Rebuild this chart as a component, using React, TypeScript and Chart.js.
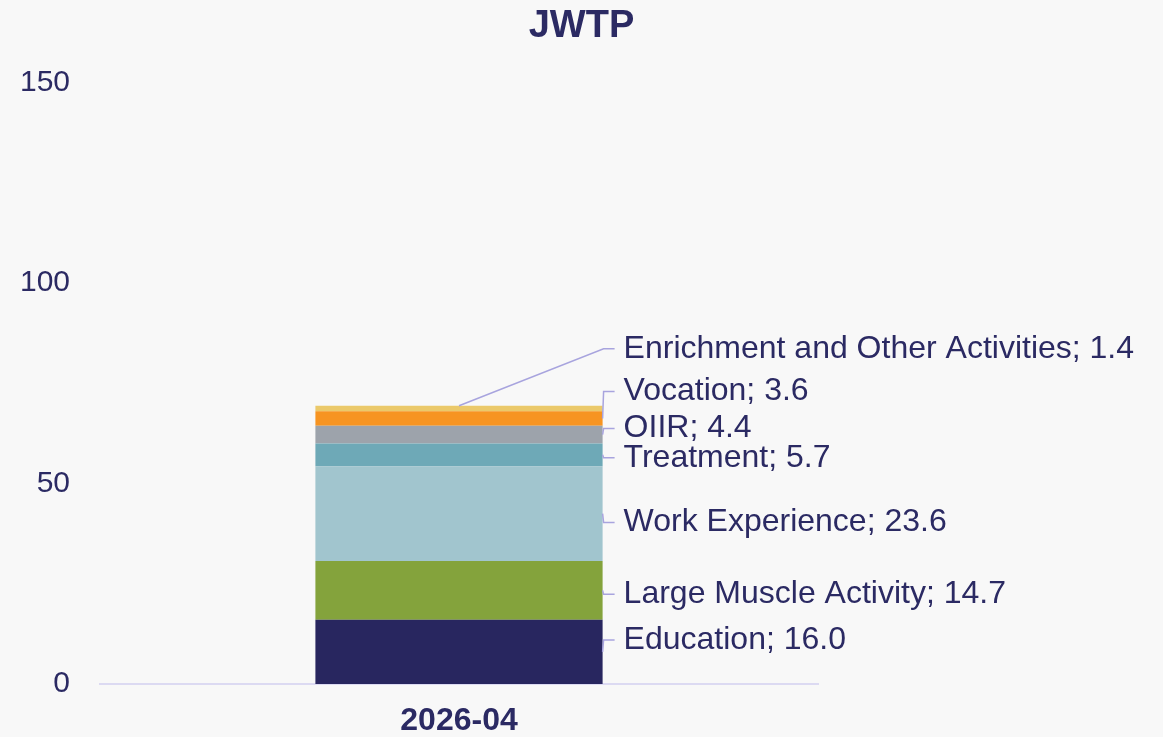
import React, { useEffect, useRef } from "react";
import { Chart, registerables } from "chart.js";

Chart.register(...registerables);

// Category and stacked segments (bottom to top)
const categories = ["2026-04"];
const seriesNames = [
  "Education",
  "Large Muscle Activity",
  "Work Experience",
  "Treatment",
  "OIIR",
  "Vocation",
  "Enrichment and Other Activities",
];
const seriesValues = [16.0, 14.7, 23.6, 5.7, 4.4, 3.6, 1.4];
const seriesColors = [
  "#28265F",
  "#84A33C",
  "#A1C5CE",
  "#6EA9B7",
  "#9DA3AB",
  "#F79421",
  "#EBC96A",
];
const yTicks = [0, 50, 100, 150];
const chartTitle = "JWTP";

// Vertical nudges (px) that spread the callouts apart
const labelNudge = [-12, 4, 9, 3, -6, -27, -57];

const TEXT = "#2B2A63";
const LEADER = "#A8A4DE";
const FONT = "'Liberation Sans', Arial, sans-serif";

// Title centred on the whole canvas, above the plot
const titlePlugin = {
  id: "pageTitle",
  afterDraw(chart: any) {
    const { ctx, width } = chart;
    ctx.save();
    ctx.font = `bold 38px ${FONT}`;
    ctx.fillStyle = TEXT;
    ctx.textAlign = "center";
    ctx.textBaseline = "middle";
    ctx.fillText(chartTitle, width / 2, 27);
    ctx.restore();
  },
};

const calloutPlugin = {
  id: "callouts",
  afterDatasetsDraw(chart: any) {
    const { ctx } = chart;
    const last = chart.data.datasets.length - 1;
    ctx.save();
    ctx.font = `32px ${FONT}`;
    ctx.textBaseline = "middle";
    ctx.textAlign = "left";
    chart.data.datasets.forEach((ds: any, i: number) => {
      const el = chart.getDatasetMeta(i).data[0];
      if (!el) return;
      const right = el.x + el.width / 2;
      let ax: number, ay: number;
      if (i === last) {
        ax = el.x;
        ay = el.y;
      } else {
        ax = right;
        ay = (el.y + el.base) / 2;
      }
      const ly = (i === last ? el.y : ay) + labelNudge[i];
      const bendX = right + 1;
      ctx.strokeStyle = LEADER;
      ctx.lineWidth = 1.5;
      ctx.beginPath();
      ctx.moveTo(ax, ay);
      ctx.lineTo(bendX, ly);
      ctx.lineTo(bendX + 11, ly);
      ctx.stroke();
      ctx.fillStyle = TEXT;
      ctx.fillText(`${ds.label}; ${ds.data[0].toFixed(1)}`, bendX + 20, ly);
    });
    ctx.restore();
  },
};

export default function App() {
  const canvasRef = useRef<HTMLCanvasElement | null>(null);

  useEffect(() => {
    document.body.style.margin = "0";
    document.body.style.background = "#F8F8F8";
    const canvas = canvasRef.current;
    if (!canvas) return;
    const chart = new Chart(canvas, {
      type: "bar",
      data: {
        labels: categories,
        datasets: seriesNames.map((name, i) => ({
          label: name,
          data: [seriesValues[i]],
          backgroundColor: seriesColors[i],
          borderWidth: 0,
          barPercentage: 1,
          categoryPercentage: 0.4,
        })),
      },
      options: {
        animation: false,
        responsive: true,
        maintainAspectRatio: false,
        layout: { padding: { left: 0, right: 345, top: 82.5, bottom: 0 } },
        plugins: {
          legend: { display: false },
          tooltip: { enabled: false },
          title: { display: false },
        },
        scales: {
          x: {
            stacked: true,
            grid: { display: false, drawTicks: false },
            border: { display: true, color: "#DCDAF2", width: 2 },
            ticks: {
              color: TEXT,
              padding: 18,
              font: { family: FONT, size: 32, weight: "bold" },
            },
            afterFit: (scale: any) => {
              scale.height = 53;
            },
          },
          y: {
            stacked: true,
            min: 0,
            max: 150,
            afterBuildTicks: (scale: any) => {
              scale.ticks = yTicks.map((v) => ({ value: v }));
            },
            grid: { display: false, drawTicks: false },
            border: { display: false },
            ticks: {
              color: TEXT,
              padding: 30,
              font: { family: FONT, size: 30 },
            },
            afterFit: (scale: any) => {
              scale.width = 100;
            },
          },
        },
      },
      plugins: [calloutPlugin, titlePlugin],
    });
    return () => chart.destroy();
  }, []);

  return (
    <div style={{ width: 1163, height: 737, background: "#F8F8F8", position: "relative" }}>
      <canvas ref={canvasRef} />
    </div>
  );
}
